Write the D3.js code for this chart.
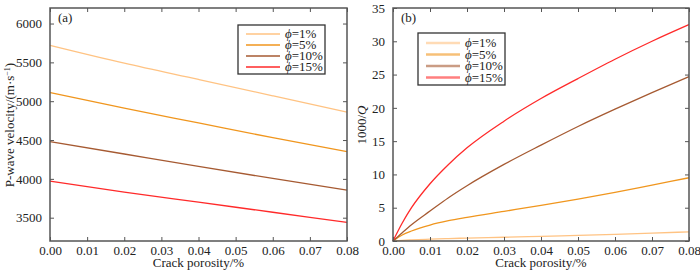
<!DOCTYPE html>
<html><head><meta charset="utf-8">
<script src="https://cdn.jsdelivr.net/npm/d3@7"></script>
<style>body{margin:0;background:#fff}</style>
</head><body><svg id="c" width="700" height="270"></svg>
<script>
const seriesNames = ["1%","5%","10%","15%"];
const colors = ["#FFC383","#F0961E","#A65A32","#FF2A2A"];
// panel (a)
const xA = [0, 0.02, 0.04, 0.06, 0.08];
const vel1 = [5720, 5490, 5280, 5070, 4860];
const vel5 = [5110, 4910, 4720, 4530, 4350];
const vel10 = [4480, 4320, 4160, 4005, 3855];
const vel15 = [3970, 3830, 3700, 3570, 3440];
// panel (b)
const xB = [0, 0.0025, 0.005, 0.01, 0.015, 0.02, 0.03, 0.04, 0.05, 0.06, 0.07, 0.08];
const q1 = [0, 0.1, 0.17, 0.28, 0.37, 0.44, 0.56, 0.7, 0.85, 1.0, 1.18, 1.38];
const q5 = [0, 0.9, 1.5, 2.4, 3.05, 3.55, 4.45, 5.35, 6.3, 7.3, 8.4, 9.5];
const q10 = [0, 1.25, 2.45, 4.5, 6.5, 8.3, 11.5, 14.4, 17.2, 19.8, 22.3, 24.7];
const q15 = [0, 2.7, 5.0, 8.6, 11.5, 14.0, 18.0, 21.4, 24.4, 27.3, 30.0, 32.5];
const xTicks = [0,0.01,0.02,0.03,0.04,0.05,0.06,0.07,0.08];
const yTicksA = [3500,4000,4500,5000,5500,6000];
const yTicksB = [0,5,10,15,20,25,30,35];

const FONT = "'Liberation Serif'";
const svg = d3.select("#c");
const frameCol = "#555";
const txt = sel => sel.style("font-family",FONT).style("font-size","13px").attr("fill","#222");

function panel(o){
  const x = d3.scaleLinear().domain([0,0.08]).range([o.x0,o.x1]);
  const y = d3.scaleLinear().domain(o.ydom).range([o.y1,o.y0]);
  const g = svg.append("g");
  const line = d3.line().x(d=>x(d[0])).y(d=>y(d[1])).curve(d3.curveMonotoneX);
  o.series.forEach((s,i)=>{
    g.append("path").datum(o.xs.map((v,j)=>[v,s[j]]))
      .attr("d",line).attr("fill","none").attr("stroke",colors[i]).attr("stroke-width",1.3);
  });
  const gb = g.append("g").attr("transform",`translate(0,${o.y1})`)
    .call(d3.axisBottom(x).tickValues(xTicks).tickFormat(d3.format(".2f")).tickSizeInner(-4).tickSizeOuter(0).tickPadding(5));
  const gt = g.append("g").attr("transform",`translate(0,${o.y0})`)
    .call(d3.axisTop(x).tickValues(xTicks).tickSizeInner(-4).tickSizeOuter(0).tickFormat(""));
  const gl = g.append("g").attr("transform",`translate(${o.x0},0)`)
    .call(d3.axisLeft(y).tickValues(o.yt).tickFormat(d3.format("d")).tickSizeInner(-4).tickSizeOuter(0).tickPadding(8));
  const gr = g.append("g").attr("transform",`translate(${o.x1},0)`)
    .call(d3.axisRight(y).tickValues(o.yt).tickSizeInner(-4).tickSizeOuter(0).tickFormat(""));
  [gb,gt,gl,gr].forEach(a=>{
    a.attr("font-family",null);
    a.selectAll(".domain").remove();
    a.selectAll(".tick line").attr("stroke",frameCol).attr("stroke-width",1);
    a.selectAll("text").call(txt);
  });
  g.append("rect").attr("x",o.x0).attr("y",o.y0).attr("width",o.x1-o.x0).attr("height",o.y1-o.y0)
    .attr("fill","none").attr("stroke",frameCol).attr("stroke-width",1.5);
  g.append("text").attr("x",o.x0+8).attr("y",o.y0+14).call(txt).text(o.tag);
  g.append("text").attr("x",(o.x0+o.x1)/2).attr("y",267).attr("text-anchor","middle").call(txt).text("Crack porosity/%");
  const L = o.leg;
  g.append("rect").attr("x",L.x).attr("y",L.y).attr("width",L.w).attr("height",L.h).attr("fill","#fff").attr("stroke","#333").attr("stroke-width",1.3);
  seriesNames.forEach((n,i)=>{
    const yy = L.y + L.r0 + i*L.dy;
    g.append("line").attr("x1",L.x+8).attr("x2",L.x+42).attr("y1",yy).attr("y2",yy)
      .attr("stroke",colors[i]).attr("stroke-width",L.sw).attr("stroke-opacity",L.op);
    const t = g.append("text").attr("x",L.x+47).attr("y",yy+4).call(txt);
    t.append("tspan").style("font-style","italic").text("\u03D5");
    t.append("tspan").text("="+n);
  });
  return {x,y,g};
}

panel({x0:50,x1:347,y0:8,y1:241,ydom:[3200,6200],yt:yTicksA,xs:xA,series:[vel1,vel5,vel10,vel15],tag:"(a)",
  leg:{x:238,y:25,w:87,h:49,r0:9,dy:11,sw:1.3,op:1}});
panel({x0:393,x1:689,y0:8,y1:241,ydom:[0,35],yt:yTicksB,xs:xB,series:[q1,q5,q10,q15],tag:"(b)",
  leg:{x:418,y:33,w:87,h:52,r0:10,dy:11.5,sw:2.5,op:0.6}});

svg.append("text").attr("transform","translate(14,125) rotate(-90)").attr("text-anchor","middle").call(txt)
  .call(t=>{t.append("tspan").text("P-wave velocity/(m\u00B7s");t.append("tspan").attr("dy",-4).style("font-size","8px").text("\u22121");t.append("tspan").attr("dy",4).text(")");});
svg.append("text").attr("transform","translate(366,125) rotate(-90)").attr("text-anchor","middle").call(txt)
  .call(t=>{t.append("tspan").text("1000/");t.append("tspan").style("font-style","italic").text("Q");});
</script></body></html>
